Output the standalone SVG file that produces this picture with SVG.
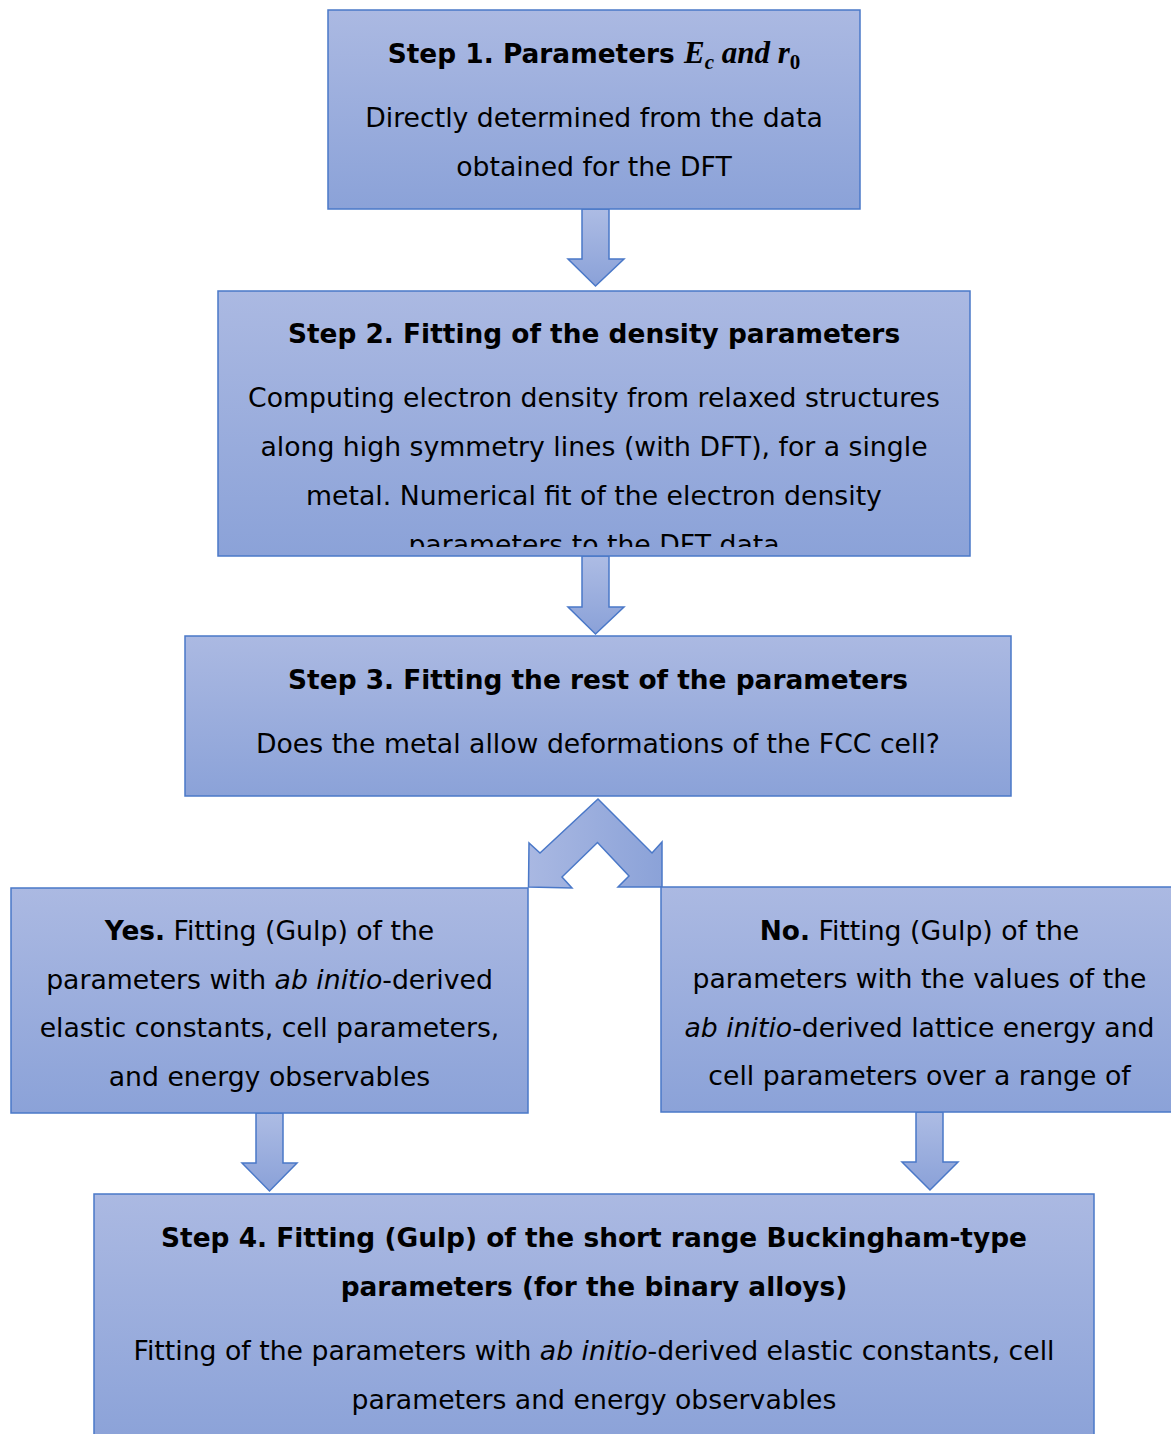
<svg xmlns="http://www.w3.org/2000/svg" width="1171" height="1434" viewBox="0 0 1171 1434">
  <defs>
    <linearGradient id="boxFill" x1="0" y1="0" x2="0" y2="1">
      <stop offset="0" stop-color="#abb9e2"/>
      <stop offset="1" stop-color="#8ba2d8"/>
    </linearGradient>
    <linearGradient id="arrowFill" x1="0" y1="0" x2="0" y2="1">
      <stop offset="0" stop-color="#adbce4"/>
      <stop offset="1" stop-color="#8aa1d8"/>
    </linearGradient>
    <linearGradient id="forkFill" x1="0" y1="0" x2="1" y2="0">
      <stop offset="0" stop-color="#a9b8e2"/>
      <stop offset="1" stop-color="#8ba2d8"/>
    </linearGradient>
    <clipPath id="clip2"><rect x="218" y="291" width="752" height="256"/></clipPath>
    <clipPath id="clipNo"><rect x="661" y="887" width="520" height="216"/></clipPath>
    <clipPath id="clip4"><rect x="94" y="1194" width="1000" height="240"/></clipPath>
  </defs>
  <style>
    .box { fill: url(#boxFill); stroke: #4a78c8; stroke-width: 1.5; }
    .arrow { fill: url(#arrowFill); stroke: #4a78c8; stroke-width: 1.5; stroke-linejoin: miter; }
    .fork { fill: url(#forkFill); stroke: #4a78c8; stroke-width: 1.5; }
    text { font-family: "DejaVu Sans", Verdana, sans-serif; font-size: 26.7px; fill: #000; text-anchor: middle; }
    .b { font-weight: bold; font-size: 26.4px; }
    .i { font-style: italic; }
    .math { font-family: "Liberation Serif", "DejaVu Serif", serif; font-style: italic; font-weight: bold; font-size: 31px; }
    .sub { font-family: "Liberation Serif", "DejaVu Serif", serif; font-weight: bold; font-size: 21px; }
    .subi { font-style: italic; }
  </style>

  <!-- connectors -->
  <g id="connectors">
    <polygon class="arrow" points="582,209 609,209 609,259 624,259 595.5,286 568,259 582,259"/>
    <polygon class="arrow" points="582,556 609,556 609,607 624,607 595.5,634 568,607 582,607"/>
    <polygon class="fork" points="598,799 652,853 662,842 662,887 618,887 629,876 597.5,842.5 562,877 572,888 528.5,887 529,843 540,853"/>
    <polygon class="arrow" points="256,1113 283,1113 283,1163 297,1163 269.5,1191 242,1163 256,1163"/>
    <polygon class="arrow" points="916,1112 943,1112 943,1162 958,1162 930,1190 902,1162 916,1162"/>
  </g>

  <!-- step 1 -->
  <g id="step1">
    <rect class="box" x="328" y="10" width="532" height="199"/>
    <text x="594" y="63"><tspan class="b">Step 1. Parameters </tspan><tspan class="math">E</tspan><tspan class="sub subi" dy="6">c</tspan><tspan class="math" dy="-6"> and r</tspan><tspan class="sub" dy="6">0</tspan></text>
    <text x="594" y="127">Directly determined from the data</text>
    <text x="594" y="176">obtained for the DFT</text>
  </g>

  <!-- step 2 -->
  <g id="step2">
    <rect class="box" x="218" y="291" width="752" height="265"/>
    <g clip-path="url(#clip2)">
      <text x="594" y="343" class="b">Step 2. Fitting of the density parameters</text>
      <text x="594" y="407">Computing electron density from relaxed structures</text>
      <text x="594" y="456">along high symmetry lines (with DFT), for a single</text>
      <text x="594" y="505">metal. Numerical fit of the electron density</text>
      <text x="594" y="554">parameters to the DFT data</text>
    </g>
  </g>

  <!-- step 3 -->
  <g id="step3">
    <rect class="box" x="185" y="636" width="826" height="160"/>
    <text x="598" y="689" class="b">Step 3. Fitting the rest of the parameters</text>
    <text x="598" y="753">Does the metal allow deformations of the FCC cell?</text>
  </g>

  <!-- yes branch -->
  <g id="yes">
    <rect class="box" x="11" y="888" width="517" height="225"/>
    <text x="269.5" y="940"><tspan class="b">Yes.</tspan> Fitting (Gulp) of the</text>
    <text x="269.5" y="989">parameters with <tspan class="i">ab initio</tspan>-derived</text>
    <text x="269.5" y="1037">elastic constants, cell parameters,</text>
    <text x="269.5" y="1086">and energy observables</text>
  </g>

  <!-- no branch -->
  <g id="no">
    <rect class="box" x="661" y="887" width="520" height="225"/>
    <g clip-path="url(#clipNo)">
      <text x="919.5" y="940"><tspan class="b">No.</tspan> Fitting (Gulp) of the</text>
      <text x="919.5" y="988">parameters with the values of the</text>
      <text x="919.5" y="1037"><tspan class="i">ab initio</tspan>-derived lattice energy and</text>
      <text x="919.5" y="1085">cell parameters over a range of</text>
    </g>
  </g>

  <!-- step 4 -->
  <g id="step4">
    <rect class="box" x="94" y="1194" width="1000" height="250"/>
    <g clip-path="url(#clip4)">
      <text x="594" y="1247" class="b">Step 4. Fitting (Gulp) of the short range Buckingham-type</text>
      <text x="594" y="1296" class="b">parameters (for the binary alloys)</text>
      <text x="594" y="1360">Fitting of the parameters with <tspan class="i">ab initio</tspan>-derived elastic constants, cell</text>
      <text x="594" y="1409">parameters and energy observables</text>
    </g>
  </g>
</svg>
